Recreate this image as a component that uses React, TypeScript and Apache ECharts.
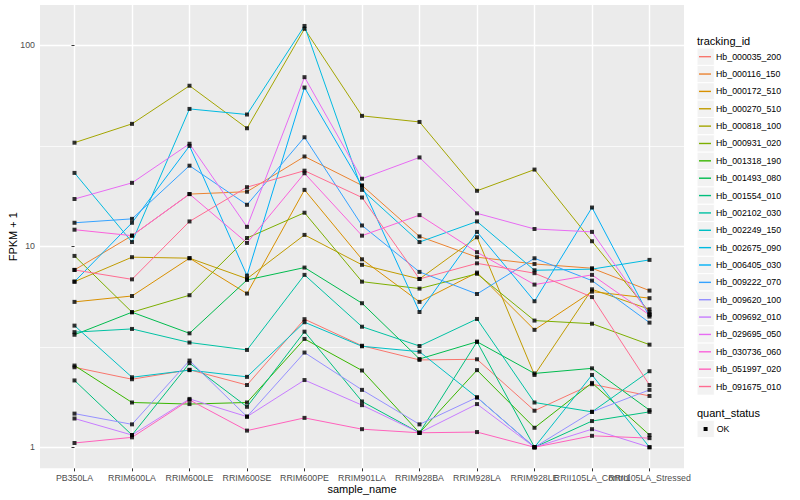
import { useEffect, useRef } from "react";
import * as echarts from "echarts";

// ---- data (FPKM + 1) ----
const samples = [
  "PB350LA", "RRIM600LA", "RRIM600LE", "RRIM600SE", "RRIM600PE", "RRIM901LA",
  "RRIM928BA", "RRIM928LA", "RRIM928LE", "RRII105LA_Control", "RRII105LA_Stressed",
];
const yTicks = [1, 10, 100];
const yMinorTicks = [3.1623, 31.623];

const hb_000035_200 = [2.50, 2.18, 2.43, 2.04, 4.34, 3.20, 2.72, 2.74, 1.52, 2.06, 1.80];
const hb_000116_150 = [7.63, 11.3, 18.2, 18.7, 28.0, 20.1, 11.2, 8.83, 8.17, 7.78, 6.02];
const hb_000172_510 = [5.29, 5.66, 8.73, 5.82, 19.1, 8.62, 5.29, 7.4, 3.84, 5.95, 5.52];
const hb_000270_510 = [6.67, 8.83, 8.73, 6.9, 11.4, 8.09, 6.88, 11.1, 2.29, 6.11, 4.86];
const hb_000818_100 = [32.8, 40.7, 63.0, 38.7, 121, 44.6, 41.6, 18.9, 24.1, 10.6, 4.7];
const hb_000931_020 = [8.96, 4.70, 5.71, 11.0, 14.7, 6.67, 6.16, 7.3, 4.27, 4.12, 3.24];
const hb_001318_190 = [2.55, 1.67, 1.64, 1.67, 3.46, 2.41, 1.18, 2.42, 1.25, 2.09, 1.15];
const hb_001493_080 = [3.63, 4.70, 3.69, 6.8, 7.84, 5.21, 2.75, 3.35, 2.33, 2.47, 1.53];
const hb_001554_010 = [2.15, 1.15, 2.62, 1.59, 3.76, 1.69, 1.18, 3.35, 1.0, 1.35, 1.50];
const hb_002102_030 = [3.74, 3.88, 3.32, 3.05, 7.21, 3.98, 3.19, 4.35, 1.67, 1.50, 2.39];
const hb_002249_150 = [4.03, 2.23, 2.42, 2.24, 4.19, 3.18, 2.99, 1.77, 1.0, 2.29, 1.0];
const hb_002675_090 = [23.2, 10.5, 48.3, 45.3, 125, 19.1, 10.5, 13.3, 7.6, 7.7, 8.56];
const hb_006405_030 = [6.67, 13.1, 31.6, 7.15, 61.7, 20.0, 4.71, 11.8, 5.33, 15.6, 4.47];
const hb_009222_070 = [13.1, 13.7, 25.2, 16.1, 34.9, 12.7, 7.46, 5.79, 8.72, 6.75, 4.17];
const hb_009620_100 = [1.47, 1.30, 2.70, 1.42, 2.96, 1.93, 1.30, 1.77, 1.0, 1.50, 1.93];
const hb_009692_010 = [1.39, 1.15, 1.74, 1.42, 2.16, 1.62, 1.18, 1.64, 1.0, 1.23, 1.0];
const hb_029695_050 = [17.2, 20.7, 32.4, 12.5, 69.5, 21.7, 27.7, 14.6, 12.2, 11.8, 4.6];
const hb_030736_060 = [12.1, 11.3, 18.2, 10.4, 23.1, 11.3, 14.3, 9.35, 6.45, 7.21, 4.55];
const hb_051997_020 = [1.05, 1.12, 1.72, 1.21, 1.40, 1.23, 1.18, 1.19, 1.0, 1.14, 1.11];
const hb_091675_010 = [7.63, 6.85, 13.3, 19.7, 23.8, 17.5, 6.88, 8.23, 7.35, 5.59, 2.04];

const trackingIds = [
  "Hb_000035_200", "Hb_000116_150", "Hb_000172_510", "Hb_000270_510", "Hb_000818_100",
  "Hb_000931_020", "Hb_001318_190", "Hb_001493_080", "Hb_001554_010", "Hb_002102_030",
  "Hb_002249_150", "Hb_002675_090", "Hb_006405_030", "Hb_009222_070", "Hb_009620_100",
  "Hb_009692_010", "Hb_029695_050", "Hb_030736_060", "Hb_051997_020", "Hb_091675_010",
];
const seriesValues = [
  hb_000035_200, hb_000116_150, hb_000172_510, hb_000270_510, hb_000818_100,
  hb_000931_020, hb_001318_190, hb_001493_080, hb_001554_010, hb_002102_030,
  hb_002249_150, hb_002675_090, hb_006405_030, hb_009222_070, hb_009620_100,
  hb_009692_010, hb_029695_050, hb_030736_060, hb_051997_020, hb_091675_010,
];
const palette = [
  "#F8766D", "#EA8331", "#D89000", "#C09B00", "#A3A500", "#7CAE00", "#39B600", "#00BB4E",
  "#00BF7D", "#00C1A3", "#00BFC4", "#00BAE0", "#00B0F6", "#35A2FF", "#9590FF", "#C77CFF",
  "#E76BF3", "#FA62DB", "#FF62BC", "#FF6C91",
];
const quantStatus = ["OK"];

const FONT = "'Liberation Sans', Arial, Helvetica, sans-serif";

export default function App() {
  const ref = useRef<HTMLDivElement>(null);

  useEffect(() => {
    if (!ref.current) return;
    const chart = echarts.init(ref.current, null, { renderer: "svg" });

    const xIdx = samples.map((_, i) => i);
    // labels split over two axes so that the overlapping pair are both kept (as in the reference)
    const xLabelsA = xIdx.filter((i) => i % 2 === 0 || i < samples.length - 2);
    const xLabelsB = xIdx.filter((i) => !xLabelsA.includes(i));

    const lineSeries = trackingIds.map((id, k) => ({
      type: "line",
      name: id,
      data: seriesValues[k].map((v, i) => [i, v]),
      showSymbol: false,
      symbol: "none",
      color: palette[k],
      lineStyle: { color: palette[k], width: 1 },
      silent: true,
      z: 2,
    }));

    const points: number[][] = [];
    seriesValues.forEach((vals) => vals.forEach((v, i) => points.push([i, v])));

    const legendTop = 48;
    const legendStep = 17.36;
    const keyBoxes = trackingIds.map((_, k) => ({
      type: "rect",
      shape: { x: 697, y: legendTop + k * legendStep, width: 17.3, height: legendStep },
      style: { fill: "#F2F2F2", stroke: "#FFFFFF", lineWidth: 1 },
      z: 1,
      silent: true,
    }));

    const labelStyle = {
      fontSize: 8.8,
      color: "#4D4D4D",
      margin: 5,
      fontFamily: FONT,
      hideOverlap: false,
      showMinLabel: true,
      showMaxLabel: true,
      formatter: (v: number) => samples[Math.round(v)] ?? "",
    };

    const option: any = {
      animation: false,
      backgroundColor: "#FFFFFF",
      textStyle: { fontFamily: FONT },
      grid: {
        left: 40,
        top: 4.96,
        width: 644,
        height: 463.4,
        show: true,
        backgroundColor: "#EBEBEB",
        borderWidth: 0,
        containLabel: false,
        outerBoundsMode: "none",
      },
      xAxis: [
        {
          type: "value",
          min: -0.6,
          max: 10.6,
          position: "bottom",
          name: "sample_name",
          nameLocation: "middle",
          nameGap: 15,
          nameMoveOverlap: false,
          nameTextStyle: { fontSize: 11, color: "#000000", fontFamily: FONT },
          axisLine: { show: false },
          axisTick: { show: true, length: 3, lineStyle: { color: "#333333", width: 1 }, customValues: xIdx },
          axisLabel: { ...labelStyle, customValues: xLabelsA },
          splitLine: { show: true, lineStyle: { color: "#FFFFFF", width: 1.4 } },
          minorSplitLine: { show: false },
        },
        {
          type: "value",
          min: -0.6,
          max: 10.6,
          position: "bottom",
          offset: 0,
          axisLine: { show: false },
          axisTick: { show: false, customValues: xLabelsB },
          axisLabel: { ...labelStyle, customValues: xLabelsB },
          splitLine: { show: false },
          minorSplitLine: { show: false },
        },
      ],
      yAxis: [
        {
          type: "log",
          logBase: 10,
          min: 0.785,
          max: 159,
          name: "FPKM + 1",
          nameLocation: "middle",
          nameGap: 22,
          nameMoveOverlap: false,
          nameTextStyle: { fontSize: 11, color: "#000000", fontFamily: FONT },
          axisLine: { show: false },
          axisTick: { show: true, length: 3, lineStyle: { color: "#333333", width: 1 }, customValues: yTicks },
          axisLabel: {
            customValues: yTicks,
            fontSize: 8.8,
            color: "#4D4D4D",
            margin: 5,
            fontFamily: FONT,
            showMinLabel: true,
            showMaxLabel: true,
            formatter: (v: number) => String(Math.round(v)),
          },
          splitLine: { show: true, lineStyle: { color: "#FFFFFF", width: 1.4 } },
          minorSplitLine: { show: false },
        },
        {
          type: "log",
          logBase: 10,
          min: 0.785,
          max: 159,
          position: "left",
          axisLine: { show: false },
          axisTick: { show: false, customValues: yMinorTicks },
          axisLabel: { show: false, customValues: yMinorTicks },
          splitLine: { show: true, lineStyle: { color: "#FFFFFF", width: 0.7 } },
          minorSplitLine: { show: false },
        },
      ],
      legend: {
        orient: "vertical",
        left: 699,
        top: legendTop,
        padding: 0,
        itemGap: 0,
        itemWidth: 12,
        itemHeight: 1.4,
        icon: "rect",
        selectedMode: false,
        textStyle: { fontSize: 8.8, color: "#000000", fontFamily: FONT, lineHeight: legendStep },
        data: trackingIds.map((id, k) => ({ name: id, icon: "rect", itemStyle: { color: palette[k] } })),
      },
      graphic: [
        {
          type: "text",
          x: 697,
          y: 40.7,
          silent: true,
          style: { text: "tracking_id", fontSize: 11, fontFamily: FONT, fill: "#000000", verticalAlign: "middle", align: "left" },
        },
        ...keyBoxes,
        {
          type: "text",
          x: 697,
          y: 412.7,
          silent: true,
          style: { text: "quant_status", fontSize: 11, fontFamily: FONT, fill: "#000000", verticalAlign: "middle", align: "left" },
        },
        {
          type: "rect",
          shape: { x: 697, y: 420.3, width: 17.3, height: 17.36 },
          style: { fill: "#F2F2F2", stroke: "#FFFFFF", lineWidth: 1 },
          silent: true,
        },
        {
          type: "rect",
          shape: { x: 703.6, y: 427, width: 4, height: 4 },
          style: { fill: "#000000" },
          silent: true,
          z: 2,
        },
        {
          type: "text",
          x: 716.7,
          y: 429,
          silent: true,
          style: { text: quantStatus[0], fontSize: 8.8, fontFamily: FONT, fill: "#000000", verticalAlign: "middle", align: "left" },
        },
      ],
      series: [
        ...lineSeries,
        {
          type: "scatter",
          name: quantStatus[0],
          data: points,
          symbol: "rect",
          symbolSize: 4,
          itemStyle: { color: "#000000" },
          silent: true,
          z: 3,
        },
      ],
    };

    chart.setOption(option);
    return () => chart.dispose();
  }, []);

  return (
    <div
      ref={ref}
      style={{ position: "fixed", left: 0, top: 0, width: 800, height: 500 }}
    />
  );
}
